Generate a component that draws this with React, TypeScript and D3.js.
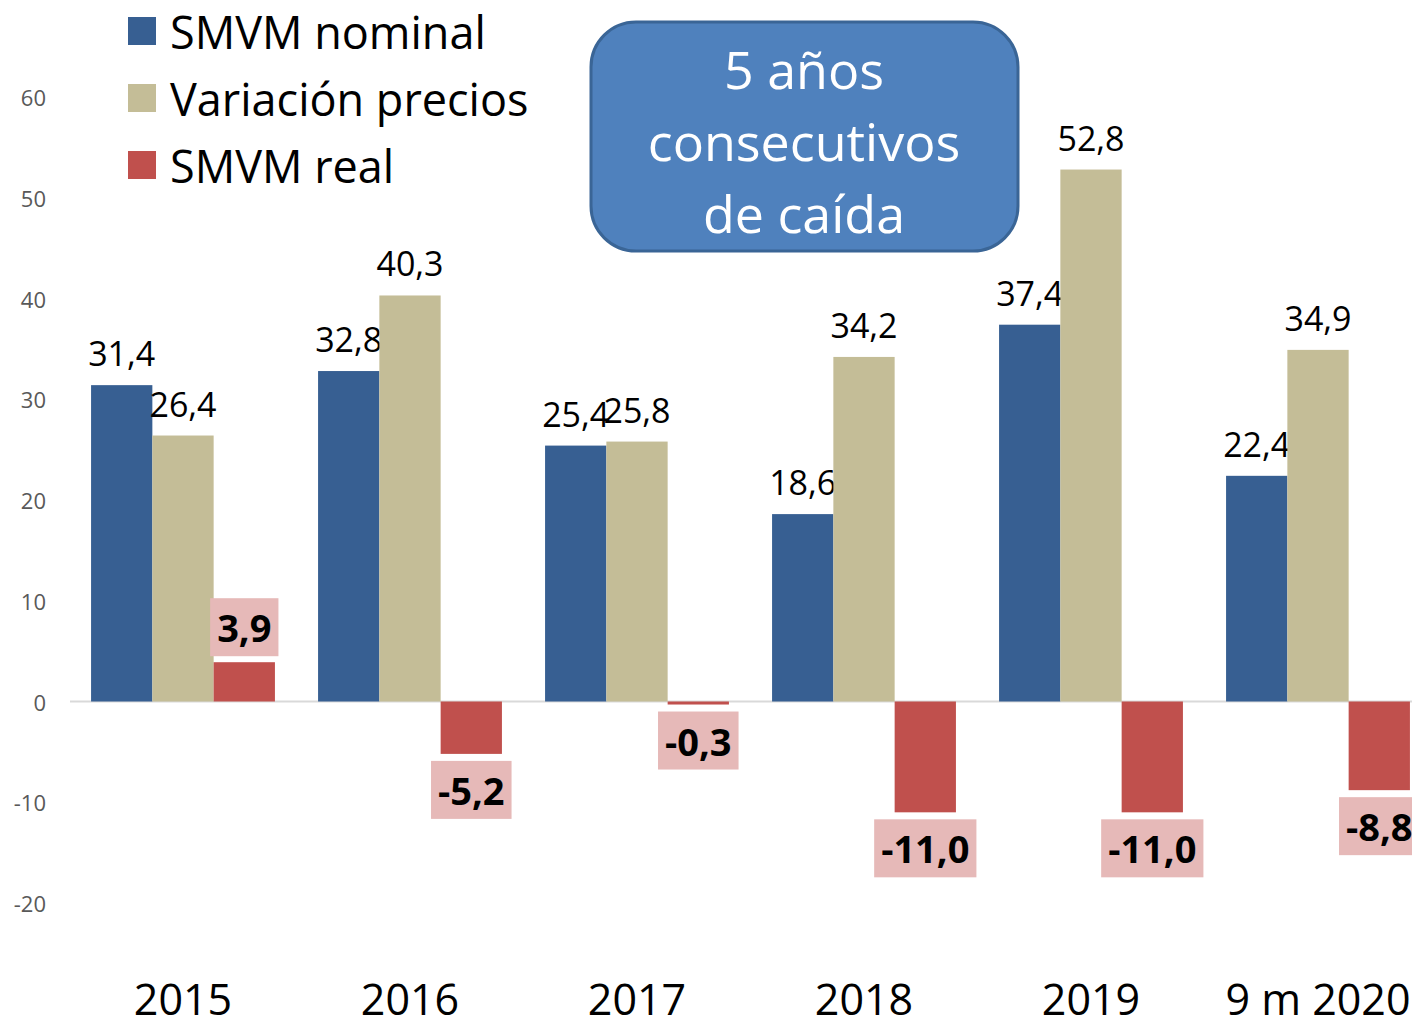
import React, { useEffect, useRef } from "react";
import * as d3 from "d3";

const categories = ["2015", "2016", "2017", "2018", "2019", "9 m 2020"];
const seriesNames = ["SMVM nominal", "Variación precios", "SMVM real"];
const nominal = [31.4, 32.8, 25.4, 18.6, 37.4, 22.4];
const precios = [26.4, 40.3, 25.8, 34.2, 52.8, 34.9];
const real = [3.9, -5.2, -0.3, -11.0, -11.0, -8.8];
const yTicks = [-20, -10, 0, 10, 20, 30, 40, 50, 60];
const colors = ["#375f92", "#c4bd97", "#c0504d"];
const boxLines = ["5 años", "consecutivos", "de caída"];

const FONT = "'Open Sans', sans-serif";

const App = () => {
  const ref = useRef(null);

  useEffect(() => {
    const svg = d3.select(ref.current);
    svg.selectAll("*").remove();

    const y = d3.scaleLinear().domain([-20, 60]).range([903, 97]);
    const x = d3
      .scaleBand()
      .domain(categories)
      .range([69.5, 1431.5])
      .paddingInner(0.19)
      .paddingOuter(0.095);
    const xs = d3.scaleBand().domain(["0", "1", "2"]).range([0, x.bandwidth()]);
    const fmt = (v: number) => d3.format(".1f")(v).replace(".", ",").replace("−", "-");

    // y tick labels
    svg
      .append("g")
      .selectAll("text")
      .data(yTicks)
      .enter()
      .append("text")
      .attr("x", 46)
      .attr("y", (d) => y(d))
      .attr("text-anchor", "end")
      .attr("dominant-baseline", "central")
      .style("font-family", FONT)
      .style("font-size", "22px")
      .style("fill", "#595959")
      .text((d) => d);

    // zero line
    svg
      .append("line")
      .attr("x1", 70)
      .attr("x2", 1412)
      .attr("y1", y(0))
      .attr("y2", y(0))
      .attr("stroke", "#d9d9d9")
      .attr("stroke-width", 2);

    // category labels
    svg
      .append("g")
      .selectAll("text")
      .data(categories)
      .enter()
      .append("text")
      .attr("x", (d) => x(d)! + x.bandwidth() / 2)
      .attr("y", 1015)
      .attr("text-anchor", "middle")
      .style("font-family", FONT)
      .style("font-size", "43px")
      .style("fill", "#000")
      .text((d) => d);

    const allSeries = [nominal, precios, real];

    allSeries.forEach((vals, si) => {
      const g = svg.append("g");
      vals.forEach((v, i) => {
        const bx = x(categories[i])! + xs(String(si))!;
        const bw = xs.bandwidth();
        const top = Math.min(y(v), y(0));
        const h = Math.abs(y(v) - y(0));
        g.append("rect")
          .attr("x", bx)
          .attr("y", top)
          .attr("width", bw)
          .attr("height", h)
          .attr("fill", colors[si]);

        if (si < 2) {
          g.append("text")
            .attr("x", bx + bw / 2)
            .attr("y", y(v) - 19)
            .attr("text-anchor", "middle")
            .style("font-family", FONT)
            .style("font-size", "34px")
            .style("fill", "#000")
            .text(fmt(v));
        } else {
          const lg = g.append("g");
          const box = lg.append("rect");
          const t = lg
            .append("text")
            .attr("x", bx + bw / 2)
            .attr("text-anchor", "middle")
            .attr("dominant-baseline", "central")
            .style("font-family", FONT)
            .style("font-size", "38px")
            .style("font-weight", "bold")
            .style("fill", "#000")
            .text(fmt(v));
          const tw = (t.node() as SVGTextElement).getComputedTextLength();
          const bwBox = tw + 14;
          const bh = 58;
          const by = v >= 0 ? y(v) - 6 - bh : y(v) + 7;
          box
            .attr("x", bx + bw / 2 - bwBox / 2)
            .attr("y", by)
            .attr("width", bwBox)
            .attr("height", bh)
            .attr("fill", "#e6b9b8");
          t.attr("y", by + bh / 2);
        }
      });
    });

    // legend
    const legend = svg.append("g");
    seriesNames.forEach((name, i) => {
      const cy = 31 + i * 67;
      legend
        .append("rect")
        .attr("x", 128)
        .attr("y", cy - 14)
        .attr("width", 28)
        .attr("height", 28)
        .attr("fill", colors[i]);
      legend
        .append("text")
        .attr("x", 170)
        .attr("y", cy)
        .attr("dominant-baseline", "central")
        .style("font-family", FONT)
        .style("font-size", "45px")
        .style("fill", "#000")
        .text(name);
    });

    // annotation box
    const ann = svg.append("g");
    ann
      .append("rect")
      .attr("x", 591)
      .attr("y", 22)
      .attr("width", 427)
      .attr("height", 229)
      .attr("rx", 45)
      .attr("fill", "#4f81bd")
      .attr("stroke", "#3a6596")
      .attr("stroke-width", 3);
    ann
      .selectAll("text")
      .data(boxLines)
      .enter()
      .append("text")
      .attr("x", 804)
      .attr("y", (d, i) => 68 + i * 72)
      .attr("text-anchor", "middle")
      .attr("dominant-baseline", "central")
      .style("font-family", FONT)
      .style("font-size", "52px")
      .style("fill", "#fff")
      .text((d) => d);
  }, []);

  return (
    <svg
      ref={ref}
      width={1412}
      height={1021}
      style={{ position: "absolute", left: 0, top: 0, background: "#fff" }}
    />
  );
};

export default App;
